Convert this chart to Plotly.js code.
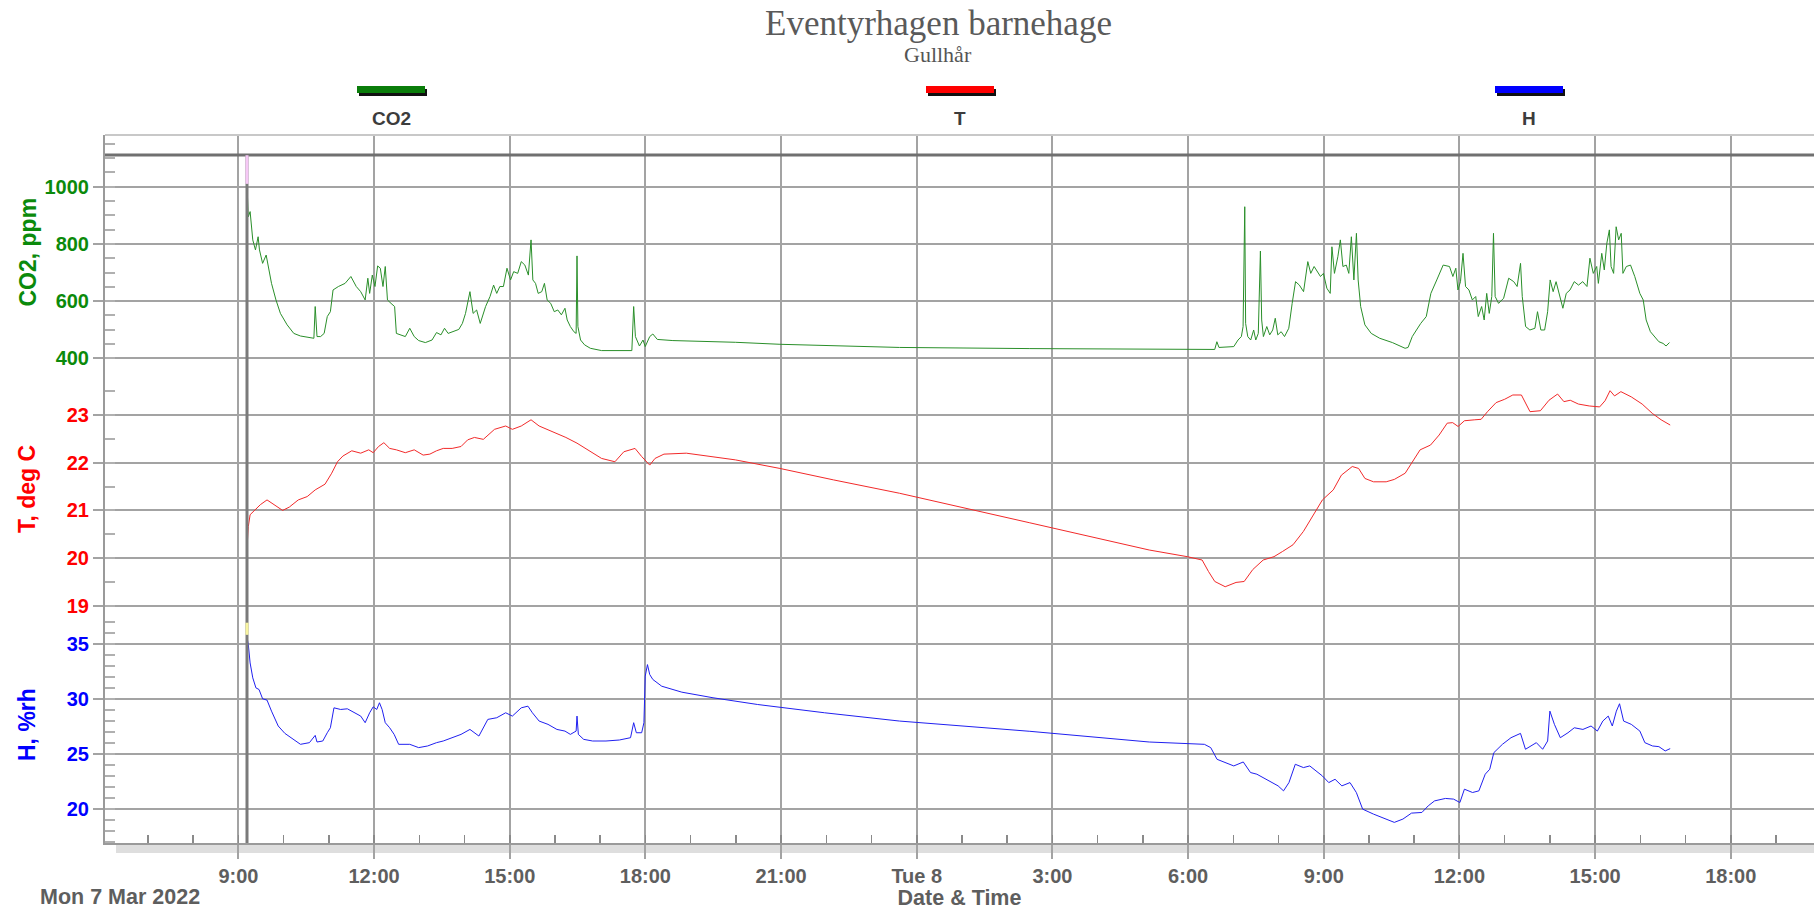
<!DOCTYPE html>
<html>
<head>
<meta charset="utf-8">
<script src="https://cdn.plot.ly/plotly-3.0.1.min.js"></script>
<style>html,body{margin:0;padding:0;background:#fff;}#chart{width:1814px;height:910px;}</style>
</head>
<body>
<div id="chart"></div>
<script>
// ---- Data (hours counted from Mon 7 Mar 2022 00:00) ----
const co2Hours = [9.190,9.219,9.259,9.318,9.377,9.436,9.466,9.535,9.614,9.653,
9.732,9.831,9.929,10.077,10.225,10.373,10.570,10.669,10.698,10.738,
10.817,10.896,10.965,11.034,11.093,11.211,11.359,11.487,11.606,11.704,
11.803,11.862,11.902,11.961,12.020,12.079,12.138,12.197,12.247,12.296,
12.375,12.454,12.493,12.592,12.691,12.789,12.888,12.986,13.134,13.282,
13.381,13.479,13.558,13.637,13.726,13.874,13.953,14.022,14.120,14.190,
14.268,14.347,14.466,14.564,14.643,14.712,14.781,14.860,14.939,15.018,
15.087,15.176,15.255,15.334,15.412,15.471,15.511,15.570,15.629,15.708,
15.767,15.827,15.906,15.984,16.063,16.142,16.221,16.270,16.340,16.418,
16.468,16.487,16.507,16.566,16.655,16.783,17.030,17.326,17.700,17.740,
17.779,17.868,17.947,17.996,18.095,18.164,18.263,18.607,19.988,20.974,
22.454,23.618,26.5,
29.140,30.122,30.589,30.636,30.683,31.010,31.104,31.178,31.216,31.253,
31.272,31.319,31.384,31.450,31.496,31.552,31.599,31.627,31.665,31.740,
31.805,31.871,31.927,31.983,32.058,32.132,32.226,32.301,32.376,32.460,
32.553,32.647,32.712,32.787,32.862,32.927,32.993,33.068,33.143,33.180,
33.236,33.311,33.367,33.423,33.498,33.554,33.610,33.666,33.722,33.760,
33.816,33.909,34.050,34.237,34.517,34.798,34.864,34.957,35.050,35.144,
35.266,35.368,35.499,35.640,35.780,35.855,35.920,35.967,36.023,36.079,
36.135,36.210,36.285,36.360,36.416,36.491,36.547,36.603,36.659,36.715,
36.753,36.790,36.865,36.977,37.089,37.201,37.276,37.351,37.389,37.463,
37.557,37.669,37.726,37.800,37.884,37.950,38.006,38.072,38.137,38.212,
38.287,38.362,38.445,38.539,38.633,38.726,38.820,38.885,38.960,39.035,
39.072,39.147,39.203,39.259,39.315,39.353,39.409,39.465,39.521,39.577,
39.615,39.690,39.783,39.877,39.989,40.064,40.129,40.223,40.317,40.410,
40.504,40.569,40.644];
const co2Ppm = [1006,895,913,814,779,825,779,732,761,732,
662,604,557,517,487,478,473,470,581,476,
476,487,546,563,639,651,662,686,651,633,
604,680,627,691,651,723,715,651,721,604,
592,581,487,482,476,505,476,462,455,464,
490,482,505,487,493,501,522,557,633,557,
569,522,581,616,656,627,651,651,715,674,
703,697,738,726,691,814,674,662,627,633,
662,604,592,563,569,552,575,534,511,493,
487,758,511,464,447,435,427,426,427,581,
476,443,464,441,476,485,466,462,456,449,
443,438,434,
431,429,431,458,438,441,464,476,511,930,
522,476,464,499,464,487,775,534,476,511,
482,499,540,482,493,476,505,592,668,656,
633,738,697,721,703,686,697,645,627,790,
697,755,814,721,726,697,825,674,837,674,
581,517,487,470,455,435,438,476,499,522,
546,627,674,726,721,686,715,639,668,767,
651,639,604,616,546,581,534,627,557,616,
837,616,592,610,680,668,651,732,616,511,
499,505,563,499,499,563,674,633,668,616,
575,627,639,668,656,668,651,750,697,721,
662,767,709,802,849,721,697,860,814,837,
697,721,726,686,627,604,534,493,476,458,
452,443,455];

const tempHours = [9.190,9.219,9.259,9.337,9.485,9.633,9.781,9.978,10.126,10.324,
10.521,10.698,10.915,11.063,11.191,11.310,11.507,11.704,11.882,11.981,
12.099,12.217,12.345,12.493,12.691,12.888,13.085,13.233,13.381,13.529,
13.726,13.923,14.071,14.219,14.416,14.663,14.910,15.058,15.255,15.471,
15.649,15.945,16.241,16.487,16.734,17.030,17.326,17.523,17.770,17.917,
18.095,18.213,18.410,18.904,19.988,20.974,22.158,23.618,26.5,
29.14,29.98,30.31,30.45,30.59,30.82,31.06,31.24,31.43,31.66,
31.90,32.09,32.32,32.55,32.79,32.97,33.21,33.39,33.63,33.77,
33.91,34.10,34.38,34.56,34.80,34.99,35.13,35.36,35.55,35.73,
35.85,35.97,36.11,36.34,36.48,36.62,36.81,37.00,37.18,37.37,
37.56,37.79,37.98,38.17,38.31,38.45,38.63,38.87,39.10,39.22,
39.33,39.43,39.57,39.80,40.04,40.27,40.46,40.66];
const tempC = [20.21,20.66,20.91,20.98,21.12,21.22,21.12,21.00,21.07,21.22,
21.29,21.43,21.55,21.78,22.02,22.14,22.25,22.20,22.27,22.21,
22.34,22.42,22.30,22.27,22.21,22.27,22.16,22.18,22.25,22.30,
22.30,22.34,22.48,22.53,22.49,22.70,22.77,22.70,22.77,22.90,
22.77,22.65,22.53,22.41,22.27,22.09,22.02,22.23,22.30,22.13,
21.95,22.09,22.18,22.20,22.06,21.88,21.64,21.36,20.74,
20.17,20.03,19.96,19.72,19.51,19.40,19.49,19.51,19.76,19.96,
20.03,20.14,20.28,20.56,20.94,21.22,21.43,21.74,21.92,21.88,
21.67,21.60,21.60,21.65,21.78,22.06,22.27,22.37,22.58,22.83,
22.84,22.76,22.88,22.90,22.91,23.07,23.26,23.33,23.42,23.42,
23.07,23.09,23.31,23.44,23.28,23.31,23.23,23.19,23.17,23.30,
23.51,23.40,23.49,23.38,23.23,23.03,22.90,22.79];

const humHours = [9.190,9.219,9.259,9.318,9.387,9.456,9.535,9.633,9.732,9.880,
10.028,10.225,10.373,10.570,10.698,10.738,10.866,10.965,11.034,11.113,
11.261,11.409,11.556,11.704,11.803,11.902,11.981,12.059,12.119,12.178,
12.247,12.345,12.444,12.543,12.789,12.986,13.184,13.381,13.529,13.726,
13.923,14.120,14.318,14.515,14.712,14.910,15.058,15.255,15.402,15.501,
15.649,15.846,16.043,16.221,16.340,16.468,16.487,16.517,16.635,16.833,
17.128,17.424,17.671,17.740,17.799,17.917,17.967,17.996,18.045,18.095,
18.164,18.361,18.805,19.495,20.482,21.961,23.618,26.5,
29.14,30.36,30.50,30.64,30.82,31.01,31.22,31.38,31.52,31.66,
31.85,31.99,32.11,32.23,32.37,32.55,32.69,32.83,32.97,33.11,
33.25,33.40,33.58,33.72,33.86,34.10,34.38,34.56,34.75,34.94,
35.17,35.31,35.45,35.69,35.87,36.01,36.11,36.29,36.43,36.57,
36.67,36.76,36.95,37.14,37.35,37.46,37.70,37.84,37.95,38.00,
38.10,38.23,38.40,38.54,38.73,38.91,39.05,39.17,39.29,39.38,
39.47,39.54,39.63,39.80,39.99,40.10,40.27,40.41,40.55,40.66];
const humRh = [35.6,34.91,33.25,31.90,30.99,30.84,30.00,29.88,28.88,27.53,
26.86,26.32,25.87,26.02,26.68,26.08,26.17,26.92,27.37,29.18,
29.03,29.09,28.73,28.43,27.83,28.73,29.27,29.03,29.64,29.03,
27.83,27.37,26.77,25.87,25.87,25.57,25.72,26.02,26.17,26.47,
26.77,27.22,26.62,28.13,28.28,28.73,28.43,29.18,29.33,28.73,
27.98,27.68,27.22,27.07,26.77,27.07,28.43,26.77,26.32,26.17,
26.17,26.26,26.47,27.83,26.92,26.92,27.83,32.05,33.10,32.20,
31.75,31.14,30.60,30.09,29.48,28.73,27.98,27.05,
26.08,25.87,25.57,24.51,24.21,23.91,24.27,23.31,23.16,22.85,
22.40,22.10,21.65,22.40,24.06,23.76,23.91,23.46,23.00,22.40,
22.70,22.10,22.40,21.50,19.99,19.54,19.09,18.79,19.09,19.63,
19.69,20.29,20.74,20.96,20.90,20.59,21.80,21.50,21.65,23.16,
23.61,25.11,25.87,26.47,26.86,25.42,26.02,25.42,26.17,28.88,
27.68,26.47,26.92,27.37,27.22,27.53,27.07,27.98,28.43,27.53,
28.88,29.55,27.98,27.68,27.07,26.02,25.72,25.66,25.27,25.48];

const xTickHours = [9,12,15,18,21,24,27,30,33,36,39,42];
const xTickLabels = ['9:00','12:00','15:00','18:00','21:00','Tue 8','3:00','6:00','9:00','12:00','15:00','18:00'];
const co2Ticks = [400,600,800,1000];
const tempTicks = [19,20,21,22,23];
const humTicks = [20,25,30,35];
const seriesNames = ['CO2','T','H'];
const axisTitles = ['CO2, ppm','T, deg C','H, %rh'];
const dateLabel = 'Mon 7 Mar 2022';
const logStartHour = 9.19;

// ---- helpers ----
const BASE = Date.UTC(2022, 2, 7);
function hoursToDate(h) {
  return new Date(BASE + Math.round(h * 3600000)).toISOString().slice(0, 19).replace('T', ' ');
}
const W = 1814, H = 910, ML = 105, MT = 135, MB = 67;
const PW = W - ML, PH = H - MT - MB;
const px = x => (x - ML) / PW;
const py = y => (H - MB - y) / PH;

const SANS = 'Liberation Sans, Arial, sans-serif';
const SERIF = 'Liberation Serif, Times New Roman, serif';
const GREEN = '#0b8a0b', RED = '#ff0000', BLUE = '#0000ff';
const GRID = '#a3a3a3';

const traces = [
  {x: co2Hours.map(hoursToDate), y: co2Ppm, yaxis: 'y3', name: seriesNames[0], mode: 'lines',
   line: {color: '#2a8f2a', width: 1}},
  {x: tempHours.map(hoursToDate), y: tempC, yaxis: 'y2', name: seriesNames[1], mode: 'lines',
   line: {color: '#f22a2a', width: 1}},
  {x: humHours.map(hoursToDate), y: humRh, yaxis: 'y', name: seriesNames[2], mode: 'lines',
   line: {color: '#2020f0', width: 1}}
];

function yAxis(domain, range, ticks, minorStep, color) {
  return {
    domain: domain, range: range, anchor: 'x', tickmode: 'array', tickvals: ticks,
    ticks: 'outside', ticklen: 10, tickwidth: 2, tickcolor: GRID,
    showgrid: true, gridcolor: GRID, gridwidth: 2, zeroline: false,
    showline: true, linecolor: '#9a9a9a', linewidth: 2,
    tickfont: {family: SANS, size: 20, color: color, weight: 'bold'},
    minor: {dtick: minorStep, ticks: 'inside', ticklen: 10, tickwidth: 2, tickcolor: '#b0b0b0', showgrid: false},
    fixedrange: true
  };
}

const dBottom = py(612), dMid = py(370);

const legendX = [391, 960, 1529];
const legendColors = ['#0a7d0a', '#ff0000', '#0000ff'];
const shapes = [
  {type: 'line', xref: 'paper', yref: 'paper', x0: 0, x1: 1, y0: 1, y1: 1, line: {color: '#c8c8c8', width: 2}},
  {type: 'line', xref: 'paper', yref: 'paper', x0: 0, x1: 1, y0: py(155), y1: py(155), line: {color: '#707070', width: 3}},
  {type: 'rect', xref: 'paper', yref: 'paper', x0: px(116), x1: 1, y0: py(853), y1: py(845), fillcolor: '#dedede', line: {width: 0}, layer: 'below'},
  {type: 'line', xref: 'x', yref: 'paper', x0: hoursToDate(logStartHour), x1: hoursToDate(logStartHour), y0: 0, y1: py(155), line: {color: '#7a7a7a', width: 3}},
  {type: 'line', xref: 'x', yref: 'y3', x0: hoursToDate(logStartHour), x1: hoursToDate(logStartHour), y0: 1010, y1: 1110, line: {color: '#f6c8f6', width: 3}},
  {type: 'line', xref: 'x', yref: 'y', x0: hoursToDate(logStartHour), x1: hoursToDate(logStartHour), y0: 35.8, y1: 36.9, line: {color: '#f8f4a0', width: 3}}
];
const annotations = [];
legendX.forEach((cx, i) => {
  shapes.push({type: 'rect', xref: 'paper', yref: 'paper', x0: px(cx - 32), x1: px(cx + 36), y0: py(96), y1: py(89), fillcolor: '#111', line: {width: 0}});
  shapes.push({type: 'rect', xref: 'paper', yref: 'paper', x0: px(cx - 34), x1: px(cx + 34), y0: py(93), y1: py(86), fillcolor: legendColors[i], line: {width: 0}});
  annotations.push({text: seriesNames[i], xref: 'paper', yref: 'paper', x: px(cx), y: py(119), xanchor: 'center', yanchor: 'middle', showarrow: false,
    font: {family: SANS, size: 19, color: '#3c3c3c', weight: 'bold'}});
});
const titleY = [252.5, 489, 725];
const titleColors = [GREEN, RED, BLUE];
axisTitles.forEach((t, i) => {
  annotations.push({text: t, xref: 'paper', yref: 'paper', x: px(27), y: py(titleY[i]), xanchor: 'center', yanchor: 'middle',
    textangle: -90, showarrow: false, font: {family: SANS, size: 23, color: titleColors[i], weight: 'bold'}});
});
annotations.push({text: dateLabel, xref: 'paper', yref: 'paper', x: px(119.5), y: py(897), xanchor: 'center', yanchor: 'middle', showarrow: false,
  font: {family: SANS, size: 21.5, color: '#5e5e5e', weight: 'bold'}});
annotations.push({text: 'Gullhår', xref: 'paper', yref: 'paper', x: px(938), y: py(54), xanchor: 'center', yanchor: 'middle', showarrow: false,
  font: {family: SERIF, size: 22, color: '#555'}});

const layout = {
  width: W, height: H,
  margin: {l: ML, r: 0, t: MT, b: MB, pad: 0},
  paper_bgcolor: '#ffffff', plot_bgcolor: '#ffffff',
  showlegend: false,
  title: {text: 'Eventyrhagen barnehage', xref: 'container', yref: 'container', x: 938.5 / W, y: 1 - 23 / H,
    xanchor: 'center', yanchor: 'middle', font: {family: SERIF, size: 35, color: '#5a5a5a'}},
  xaxis: {
    type: 'date', anchor: 'y', domain: [0, 1],
    range: [hoursToDate(6.05), hoursToDate(43.84)],
    tickmode: 'array', tickvals: xTickHours.map(hoursToDate), ticktext: xTickLabels,
    ticks: 'outside', ticklen: 14, tickwidth: 2, tickcolor: GRID,
    showgrid: true, gridcolor: GRID, gridwidth: 2, zeroline: false,
    showline: true, linecolor: '#9a9a9a', linewidth: 2,
    tickfont: {family: SANS, size: 20, color: '#5e5e5e', weight: 'bold'},
    minor: {tick0: hoursToDate(0), dtick: 3600000, ticks: 'inside', ticklen: 8, tickwidth: 1.5, tickcolor: '#8a8a8a', showgrid: false},
    title: {text: 'Date & Time', standoff: 3, font: {family: SANS, size: 21.5, color: '#5e5e5e', weight: 'bold'}},
    fixedrange: true
  },
  yaxis: yAxis([0, dBottom], [16.92, 37.87], humTicks, 1, BLUE),
  yaxis2: yAxis([dBottom, dMid], [18.87, 23.944], tempTicks, 0.5, RED),
  yaxis3: yAxis([dMid, 1], [359.1, 1180.8], co2Ticks, 50, GREEN),
  shapes: shapes,
  annotations: annotations
};

Plotly.newPlot('chart', traces, layout, {displayModeBar: false, staticPlot: true});
</script>
</body>
</html>
